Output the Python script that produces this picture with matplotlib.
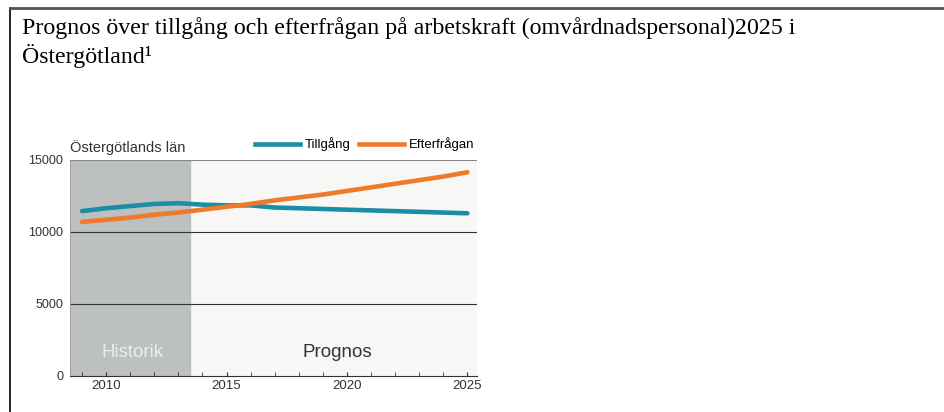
import matplotlib.pyplot as plt
from matplotlib.lines import Line2D

years = list(range(2009, 2026))
tillgang = [11450, 11650, 11800, 11950, 12000, 11900, 11850, 11850, 11700,
            11650, 11600, 11550, 11500, 11450, 11400, 11350, 11300]
efterfragan = [10700, 10850, 11000, 11200, 11350, 11550, 11750, 11950, 12200,
               12400, 12600, 12850, 13100, 13350, 13600, 13850, 14150]
yticks = [0, 5000, 10000, 15000]
xticks = [2010, 2015, 2020, 2025]
historik_end = 2013.5

teal = "#1b8ea6"
orange = "#f07a2c"

fig = plt.figure(figsize=(9.45, 4.12), dpi=100)
fig.patch.set_facecolor("white")

# frame around the document box
fig.add_artist(Line2D([10/945, 10/945], [0, 1 - 8/412], color="black", lw=1.2))
fig.add_artist(Line2D([10/945, 1], [1 - 8/412, 1 - 8/412], color="#555555", lw=2))

fig.text(22/945, 1 - 28/412, "Prognos över tillgång och efterfrågan på arbetskraft (omvårdnadspersonal)2025 i",
         family="Liberation Serif", fontsize=17.2, va="center", ha="left")
fig.text(22/945, 1 - 56/412, "Östergötland¹",
         family="Liberation Serif", fontsize=17.2, va="center", ha="left")

ax = fig.add_axes([70/945, 1 - 376/412, 407/945, 216/412])
ax.set_facecolor("#f7f7f6")
ax.set_xlim(2008.5, 2025.4)
ax.set_ylim(0, 15000)
ax.axvspan(2008.5, historik_end, color="#bcc0bf", zorder=0)

for v in yticks[1:]:
    ax.axhline(v, color="#333333" if v < 15000 else "#888888", lw=0.8, zorder=1)

ax.plot(years, tillgang, color=teal, lw=3.3, solid_capstyle="round", zorder=3)
ax.plot(years, efterfragan, color=orange, lw=3.3, solid_capstyle="round", zorder=3)

for s in ["top", "right"]:
    ax.spines[s].set_visible(False)
ax.spines["left"].set_color("#999999")
ax.spines["left"].set_linewidth(0.6)
ax.spines["bottom"].set_color("#333333")

ax.set_yticks(yticks)
ax.set_yticklabels([str(v) for v in yticks], family="Liberation Sans", fontsize=9, color="#333333")
ax.tick_params(axis="y", length=0, pad=5)
ax.set_xticks(xticks)
ax.set_xticklabels([str(v) for v in xticks], family="Liberation Sans", fontsize=9.5, color="#333333")
ax.set_xticks(years, minor=True)
ax.tick_params(axis="x", which="both", direction="in", length=3, color="#333333", pad=3)

ax.text(2011.1, 1600, "Historik", color="#ececec", fontsize=13.5, family="Liberation Sans",
        ha="center", va="center")
ax.text(2019.6, 1600, "Prognos", color="#333333", fontsize=13.5, family="Liberation Sans",
        ha="center", va="center")
ax.text(0, 1.025, "Östergötlands län", transform=ax.transAxes, fontsize=10.5,
        family="Liberation Sans", color="#333333", ha="left", va="bottom")

leg_handles = [Line2D([0], [0], color=teal, lw=3.3), Line2D([0], [0], color=orange, lw=3.3)]
ax.legend(leg_handles, ["Tillgång", "Efterfrågan"], loc="lower right", bbox_to_anchor=(1.01, 1.01),
          ncol=2, frameon=False, handlelength=3.4, columnspacing=0.6, handletextpad=0.4,
          prop={"family": "Liberation Sans", "size": 9.5}, borderaxespad=0.1)

fig.savefig("out.png", dpi=100)
